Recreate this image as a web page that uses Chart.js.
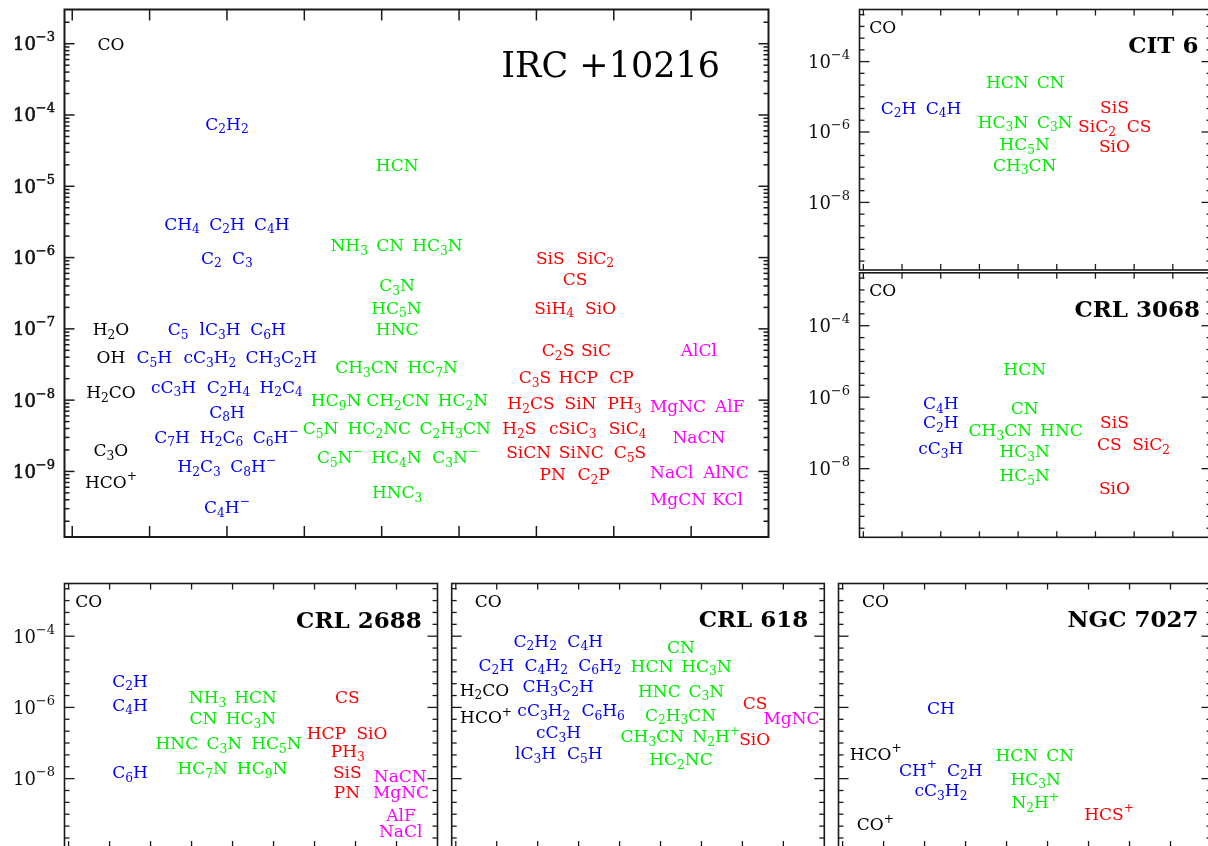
<!DOCTYPE html>
<html>
<head>
<meta charset="utf-8">
<title>Molecular abundances in circumstellar envelopes</title>
<script src="https://cdn.jsdelivr.net/npm/chart.js@4/dist/chart.umd.min.js"></script>
<style>
  html, body { margin: 0; padding: 0; background: #fff; }
  body { width: 1208px; height: 846px; position: relative; overflow: hidden; }
  canvas { position: absolute; }
</style>
</head>
<body>
<canvas id="irc"></canvas>
<canvas id="cit6"></canvas>
<canvas id="crl3068"></canvas>
<canvas id="crl2688"></canvas>
<canvas id="crl618"></canvas>
<canvas id="ngc7027"></canvas>
<script>
// ---- shared axes ----
const xRange = [-0.1, 9];                       // arbitrary column position
const abundanceRange = [10 ** -9.92, 10 ** -2.52];
const xTickValues = [0, 1, 2, 3, 4, 5, 6, 7, 8];
const mainTickExps = [-3, -4, -5, -6, -7, -8, -9];
const smallTickExps = [-4, -6, -8];

// ---- IRC +10216 : [formula, column, abundance] ----
const ircBlack = [
  ['CO', 0.5, 1.0e-3], ['H_2O', 0.5, 1.0e-7], ['OH', 0.5, 4.0e-8],
  ['H_2CO', 0.5, 1.3e-8], ['C_3O', 0.5, 2.0e-9], ['HCO^+', 0.5, 7.2e-10]
];
const ircBlue = [
  ['C_2H_2', 2.0, 7.6e-5],
  ['CH_4', 1.42, 3.0e-6], ['C_2H', 2.0, 3.0e-6], ['C_4H', 2.58, 3.0e-6],
  ['C_2', 1.80, 1.0e-6], ['C_3', 2.20, 1.0e-6],
  ['C_5', 1.37, 1.0e-7], ['lC_3H', 1.91, 1.0e-7], ['C_6H', 2.53, 1.0e-7],
  ['C_5H', 1.06, 4.0e-8], ['cC_3H_2', 1.78, 4.0e-8], ['CH_3C_2H', 2.70, 4.0e-8],
  ['cC_3H', 1.31, 1.55e-8], ['C_2H_4', 2.02, 1.55e-8], ['H_2C_4', 2.70, 1.55e-8],
  ['C_8H', 2.0, 6.9e-9],
  ['C_7H', 1.29, 3.1e-9], ['H_2C_6', 1.93, 3.1e-9], ['C_6H^-', 2.63, 3.1e-9],
  ['H_2C_3', 1.64, 1.2e-9], ['C_8H^-', 2.34, 1.2e-9],
  ['C_4H^-', 2.0, 3.2e-10]
];
const ircGreen = [
  ['HCN', 4.2, 2.0e-5],
  ['NH_3', 3.58, 1.5e-6], ['CN', 4.11, 1.5e-6], ['HC_3N', 4.72, 1.5e-6],
  ['C_3N', 4.2, 4.1e-7], ['HC_5N', 4.19, 2.0e-7], ['HNC', 4.2, 1.0e-7],
  ['CH_3CN', 3.81, 2.9e-8], ['HC_7N', 4.66, 2.9e-8],
  ['HC_9N', 3.41, 1.0e-8], ['CH_2CN', 4.21, 1.0e-8], ['HC_2N', 5.05, 1.0e-8],
  ['C_5N', 3.21, 4.1e-9], ['HC_2NC', 3.97, 4.1e-9], ['C_2H_3CN', 4.95, 4.1e-9],
  ['C_5N^-', 3.46, 1.6e-9], ['HC_4N', 4.19, 1.6e-9], ['C_3N^-', 4.95, 1.6e-9],
  ['HNC_3', 4.2, 5.1e-10]
];
const ircRed = [
  ['SiS', 6.18, 1.0e-6], ['SiC_2', 6.76, 1.0e-6],
  ['CS', 6.5, 5.0e-7],
  ['SiH_4', 6.23, 2.0e-7], ['SiO', 6.83, 2.0e-7],
  ['C_2S', 6.28, 5.1e-8], ['SiC', 6.77, 5.1e-8],
  ['C_3S', 5.98, 2.1e-8], ['HCP', 6.54, 2.1e-8], ['CP', 7.10, 2.1e-8],
  ['H_2CS', 5.93, 9.1e-9], ['SiN', 6.57, 9.1e-9], ['PH_3', 7.14, 9.1e-9],
  ['H_2S', 5.78, 4.1e-9], ['cSiC_3', 6.47, 4.1e-9], ['SiC_4', 7.18, 4.1e-9],
  ['SiCN', 5.90, 1.85e-9], ['SiNC', 6.58, 1.85e-9], ['C_5S', 7.21, 1.85e-9],
  ['PN', 6.21, 9.3e-10], ['C_2P', 6.74, 9.3e-10]
];
const ircMagenta = [
  ['AlCl', 8.10, 5.1e-8],
  ['MgNC', 7.83, 8.2e-9], ['AlF', 8.50, 8.2e-9],
  ['NaCN', 8.10, 3.1e-9],
  ['NaCl', 7.75, 1.0e-9], ['AlNC', 8.45, 1.0e-9],
  ['MgCN', 7.83, 4.1e-10], ['KCl', 8.47, 4.1e-10]
];

// ---- CIT 6 ----
const cit6Black = [['CO', 0.5, 1.0e-3]];
const cit6Blue = [['C_2H', 0.91, 5.0e-6], ['C_4H', 2.07, 5.0e-6]];
const cit6Green = [
  ['HCN', 3.72, 2.7e-5], ['CN', 4.84, 2.7e-5],
  ['HC_3N', 3.61, 2.0e-6], ['C_3N', 4.95, 2.0e-6],
  ['HC_5N', 4.17, 4.6e-7], ['CH_3CN', 4.17, 1.2e-7]
];
const cit6Red = [
  ['SiS', 6.49, 5.2e-6], ['SiC_2', 6.04, 1.5e-6], ['CS', 7.13, 1.5e-6], ['SiO', 6.49, 4.1e-7]
];

// ---- CRL 3068 ----
const crl3068Black = [['CO', 0.5, 1.0e-3]];
const crl3068Blue = [['C_4H', 2.0, 6.9e-7], ['C_2H', 2.0, 2.0e-7], ['cC_3H', 2.0, 3.8e-8]];
const crl3068Green = [
  ['HCN', 4.17, 6.3e-6], ['CN', 4.17, 5.0e-7],
  ['CH_3CN', 3.54, 1.2e-7], ['HNC', 5.12, 1.2e-7],
  ['HC_3N', 4.17, 3.1e-8], ['HC_5N', 4.17, 6.8e-9]
];
const crl3068Red = [
  ['SiS', 6.49, 2.0e-7], ['CS', 6.36, 4.9e-8], ['SiC_2', 7.44, 4.9e-8], ['SiO', 6.49, 2.9e-9]
];

// ---- CRL 2688 ----
const crl2688Black = [['CO', 0.49, 1.0e-3]];
const crl2688Blue = [['C_2H', 1.5, 5.7e-6], ['C_4H', 1.5, 1.2e-6], ['C_6H', 1.5, 1.55e-8]];
const crl2688Green = [
  ['NH_3', 3.39, 2.0e-6], ['HCN', 4.56, 2.0e-6],
  ['CN', 3.29, 5.1e-7], ['HC_3N', 4.45, 5.1e-7],
  ['HNC', 2.64, 1.0e-7], ['C_3N', 3.80, 1.0e-7], ['HC_5N', 5.07, 1.0e-7],
  ['HC_7N', 3.27, 2.0e-8], ['HC_9N', 4.72, 2.0e-8]
];
const crl2688Red = [
  ['CS', 6.80, 2.0e-6], ['HCP', 6.29, 1.9e-7], ['SiO', 7.40, 1.9e-7],
  ['PH_3', 6.81, 6.1e-8], ['SiS', 6.80, 1.55e-8], ['PN', 6.79, 4.2e-9]
];
const crl2688Magenta = [
  ['NaCN', 8.09, 1.2e-8], ['MgNC', 8.11, 4.2e-9], ['AlF', 8.11, 9.5e-10], ['NaCl', 8.10, 3.5e-10]
];

// ---- CRL 618 ----
const crl618Black = [['CO', 0.79, 1.0e-3], ['H_2CO', 0.70, 3.2e-6], ['HCO^+', 0.74, 5.3e-7]];
const crl618Blue = [
  ['C_2H_2', 1.94, 7.6e-5], ['C_4H', 3.16, 7.6e-5],
  ['C_2H', 0.99, 1.6e-5], ['C_4H_2', 2.21, 1.6e-5], ['C_6H_2', 3.52, 1.6e-5],
  ['CH_3C_2H', 2.50, 4.0e-6],
  ['cC_3H_2', 2.15, 8.3e-7], ['C_6H_6', 3.60, 8.3e-7],
  ['cC_3H', 2.51, 2.0e-7],
  ['lC_3H', 1.95, 5.2e-8], ['C_5H', 3.15, 5.2e-8]
];
const crl618Green = [
  ['CN', 5.50, 4.9e-5],
  ['HCN', 4.79, 1.5e-5], ['HC_3N', 6.12, 1.5e-5],
  ['HNC', 4.97, 3.0e-6], ['C_3N', 6.12, 3.0e-6],
  ['C_2H_3CN', 5.49, 6.3e-7],
  ['CH_3CN', 4.80, 1.55e-7], ['N_2H^+', 6.36, 1.55e-7],
  ['HC_2NC', 5.50, 3.5e-8]
];
const crl618Red = [['CS', 7.31, 1.35e-6], ['SiO', 7.30, 1.3e-7]];
const crl618Magenta = [['MgNC', 8.20, 5.1e-7]];

// ---- NGC 7027 ----
const ngc7027Black = [['CO', 0.80, 1.0e-3], ['HCO^+', 0.81, 5.0e-8], ['CO^+', 0.80, 5.2e-10]];
const ngc7027Blue = [['CH', 2.40, 1.0e-6], ['CH^+', 1.84, 1.8e-8], ['C_2H', 2.98, 1.8e-8], ['cC_3H_2', 2.40, 4.7e-9]];
const ngc7027Green = [
  ['HCN', 4.25, 4.7e-8], ['CN', 5.31, 4.7e-8], ['HC_3N', 4.71, 1.0e-8], ['N_2H^+', 4.70, 2.2e-9]
];
const ngc7027Red = [['HCS^+', 6.50, 1.05e-9]];

// ---- styling ----
const COLORS = { black: '#000000', blue: '#0000ff', green: '#00ee00', red: '#ff0000', magenta: '#ff00ff' };
const SERIF = "'DejaVu Serif', 'Liberation Serif', serif";
const LABEL_SIZE = 17;

// split "C_2H_3CN" / "HCO^+" into normal, subscript and superscript runs
function parseFormula(s) {
  const segs = [];
  let i = 0;
  while (i < s.length) {
    const c = s[i];
    if (c === '_') {
      let j = i + 1, t = '';
      while (j < s.length && /[0-9]/.test(s[j])) { t += s[j]; j++; }
      segs.push({ t, k: 'sub' });
      i = j;
    } else if (c === '^') {
      let t = s[i + 1];
      if (t === '-') t = '\u2212';
      segs.push({ t, k: 'sup' });
      i += 2;
    } else {
      let t = '';
      while (i < s.length && s[i] !== '_' && s[i] !== '^') { t += s[i]; i++; }
      segs.push({ t, k: 'n' });
    }
  }
  return segs;
}

function drawFormula(ctx, s, cx, cy, size, color) {
  const segs = parseFormula(s);
  let w = 0;
  segs.forEach(g => {
    g.fs = g.k === 'n' ? size : size * 0.72;
    ctx.font = g.fs + 'px ' + SERIF;
    g.w = ctx.measureText(g.t).width;
    w += g.w;
  });
  let x = cx - w / 2;
  const base = cy + size * 0.36;
  ctx.fillStyle = color;
  ctx.textAlign = 'left';
  ctx.textBaseline = 'alphabetic';
  segs.forEach(g => {
    ctx.font = g.fs + 'px ' + SERIF;
    const dy = g.k === 'sub' ? size * 0.22 : g.k === 'sup' ? -size * 0.45 : 0;
    ctx.fillText(g.t, x, base + dy);
    x += g.w;
  });
}

// molecule names at their (column, abundance) points
const formulaLabels = {
  id: 'formulaLabels',
  afterDatasetsDraw(chart) {
    const ctx = chart.ctx;
    ctx.save();
    chart.data.datasets.forEach((ds, i) => {
      const meta = chart.getDatasetMeta(i);
      meta.data.forEach((el, j) => {
        drawFormula(ctx, ds.data[j].label, el.x, el.y, LABEL_SIZE, ds.labelColor);
      });
    });
    ctx.restore();
  }
};

// boxed frame, inward ticks on all four sides, power-of-ten labels, panel name
const frameAxes = {
  id: 'frameAxes',
  afterDraw(chart, args, o) {
    const ctx = chart.ctx;
    const { left, right, top, bottom } = chart.chartArea;
    const xs = chart.scales.x, ys = chart.scales.y;
    ctx.save();
    ctx.strokeStyle = '#1a1a1a';
    ctx.lineWidth = o.lineWidth;
    ctx.strokeRect(left, top, right - left, bottom - top);

    ctx.lineWidth = o.tickWidth;
    const line = (x1, y1, x2, y2) => { ctx.beginPath(); ctx.moveTo(x1, y1); ctx.lineTo(x2, y2); ctx.stroke(); };

    xTickValues.forEach(v => {
      const px = xs.getPixelForValue(v);
      line(px, top, px, top + o.xTickLen);
      line(px, bottom, px, bottom - o.xTickLen);
    });

    const yTick = (v, len) => {
      const py = ys.getPixelForValue(v);
      if (py < top + 1 || py > bottom - 1) return;
      line(left, py, left + len, py);
      line(right, py, right - len, py);
    };
    if (o.minorMode === 'log') {
      for (let n = -11; n <= -2; n++) {
        yTick(10 ** n, o.yMajorLen);
        for (let k = 2; k <= 9; k++) yTick(k * 10 ** n, o.yMinorLen);
      }
    } else {
      for (let i = -33; i <= -6; i++) {
        const major = i % 3 === 0 && (i / 3) % 2 === 0;
        yTick(10 ** (i / 3), major ? o.yMajorLen : o.yMinorLen);
      }
    }

    // tick labels: 10 with raised exponent
    ctx.fillStyle = '#111';
    ctx.strokeStyle = '#111';
    ctx.textBaseline = 'alphabetic';
    ctx.textAlign = 'left';
    o.labelExps.forEach(e => {
      const py = ys.getPixelForValue(10 ** e);
      const big = o.tickFont, small = Math.round(o.tickFont * 0.72);
      const expText = '\u2212' + Math.abs(e);
      ctx.font = big + 'px ' + SERIF;
      const w1 = ctx.measureText('10').width;
      ctx.font = small + 'px ' + SERIF;
      const w2 = ctx.measureText(expText).width;
      const x0 = left - o.labelGap - w1 - w2;
      const base = py + big * 0.36;
      ctx.font = big + 'px ' + SERIF;
      ctx.fillText('10', x0, base);
      if (o.heavyTicks) { ctx.lineWidth = 0.6; ctx.strokeText('10', x0, base); }
      ctx.font = small + 'px ' + SERIF;
      ctx.fillText(expText, x0 + w1, base - big * 0.5);
      if (o.heavyTicks) { ctx.lineWidth = 0.5; ctx.strokeText(expText, x0 + w1, base - big * 0.5); }
    });

    // panel name
    ctx.fillStyle = '#000';
    ctx.textAlign = 'right';
    ctx.font = (o.titleBold ? 'bold ' : '') + o.titleSize + 'px ' + SERIF;
    ctx.fillText(o.title, right - o.titleDx, top + o.titleDy);
    ctx.restore();
  }
};

function toPoints(rows) {
  return rows.map(r => ({ x: r[1], y: r[2], label: r[0] }));
}

function makePanel(id, groups, box, plot, style) {
  const cv = document.getElementById(id);
  cv.width = box[2];
  cv.height = box[3];
  cv.style.left = box[0] + 'px';
  cv.style.top = box[1] + 'px';
  const datasets = groups.map(g => ({
    data: toPoints(g.rows),
    labelColor: COLORS[g.color],
    pointRadius: 0,
    showLine: false
  }));
  return new Chart(cv, {
    type: 'scatter',
    data: { datasets },
    options: {
      responsive: false,
      animation: false,
      events: [],
      layout: {
        padding: {
          left: plot[0] - box[0],
          top: plot[1] - box[1],
          right: box[0] + box[2] - plot[2],
          bottom: box[1] + box[3] - plot[3]
        }
      },
      scales: {
        x: { type: 'linear', min: xRange[0], max: xRange[1], bounds: 'data', display: false },
        y: { type: 'logarithmic', min: abundanceRange[0], max: abundanceRange[1], bounds: 'data', display: false }
      },
      plugins: {
        legend: { display: false },
        tooltip: { enabled: false },
        frameAxes: style
      }
    },
    plugins: [formulaLabels, frameAxes]
  });
}

const smallStyle = (title, dx, dy) => ({
  lineWidth: 1.6, tickWidth: 1.3, xTickLen: 6, yMajorLen: 10, yMinorLen: 5,
  minorMode: 'third', labelExps: smallTickExps, tickFont: 18, labelGap: 9.5, heavyTicks: false,
  title, titleSize: 23, titleBold: true, titleDx: dx, titleDy: dy
});

makePanel('irc', [
  { rows: ircBlack, color: 'black' }, { rows: ircBlue, color: 'blue' },
  { rows: ircGreen, color: 'green' }, { rows: ircRed, color: 'red' },
  { rows: ircMagenta, color: 'magenta' }
], [0, 0, 790, 550], [64.5, 9.5, 768.5, 537], {
  lineWidth: 2, tickWidth: 1.5, xTickLen: 11, yMajorLen: 10, yMinorLen: 5,
  minorMode: 'log', labelExps: mainTickExps, tickFont: 18, labelGap: 9.5, heavyTicks: true,
  title: 'IRC +10216', titleSize: 35, titleBold: false, titleDx: 48.5, titleDy: 67
});

makePanel('cit6', [
  { rows: cit6Black, color: 'black' }, { rows: cit6Blue, color: 'blue' },
  { rows: cit6Green, color: 'green' }, { rows: cit6Red, color: 'red' }
], [795, 0, 420, 271], [859.5, 9.5, 1211.5, 270], smallStyle('CIT 6', 13, 43.5));

makePanel('crl3068', [
  { rows: crl3068Black, color: 'black' }, { rows: crl3068Blue, color: 'blue' },
  { rows: crl3068Green, color: 'green' }, { rows: crl3068Red, color: 'red' }
], [795, 271, 420, 275], [859.5, 272.8, 1211.5, 537.3], smallStyle('CRL 3068', 11.5, 44.5));

makePanel('crl2688', [
  { rows: crl2688Black, color: 'black' }, { rows: crl2688Blue, color: 'blue' },
  { rows: crl2688Green, color: 'green' }, { rows: crl2688Red, color: 'red' },
  { rows: crl2688Magenta, color: 'magenta' }
], [0, 572, 446, 280], [64.5, 583.5, 437.5, 847], smallStyle('CRL 2688', 15.8, 44));

makePanel('crl618', [
  { rows: crl618Black, color: 'black' }, { rows: crl618Blue, color: 'blue' },
  { rows: crl618Green, color: 'green' }, { rows: crl618Red, color: 'red' },
  { rows: crl618Magenta, color: 'magenta' }
], [446, 572, 385, 280], [451.7, 583.5, 824.3, 847], Object.assign(smallStyle('CRL 618', 16, 43.3), { labelExps: [] }));

makePanel('ngc7027', [
  { rows: ngc7027Black, color: 'black' }, { rows: ngc7027Blue, color: 'blue' },
  { rows: ngc7027Green, color: 'green' }, { rows: ngc7027Red, color: 'red' }
], [831, 572, 384, 280], [838.5, 583.5, 1211.5, 847], Object.assign(smallStyle('NGC 7027', 13, 43.3), { labelExps: [] }));
</script>
</body>
</html>
